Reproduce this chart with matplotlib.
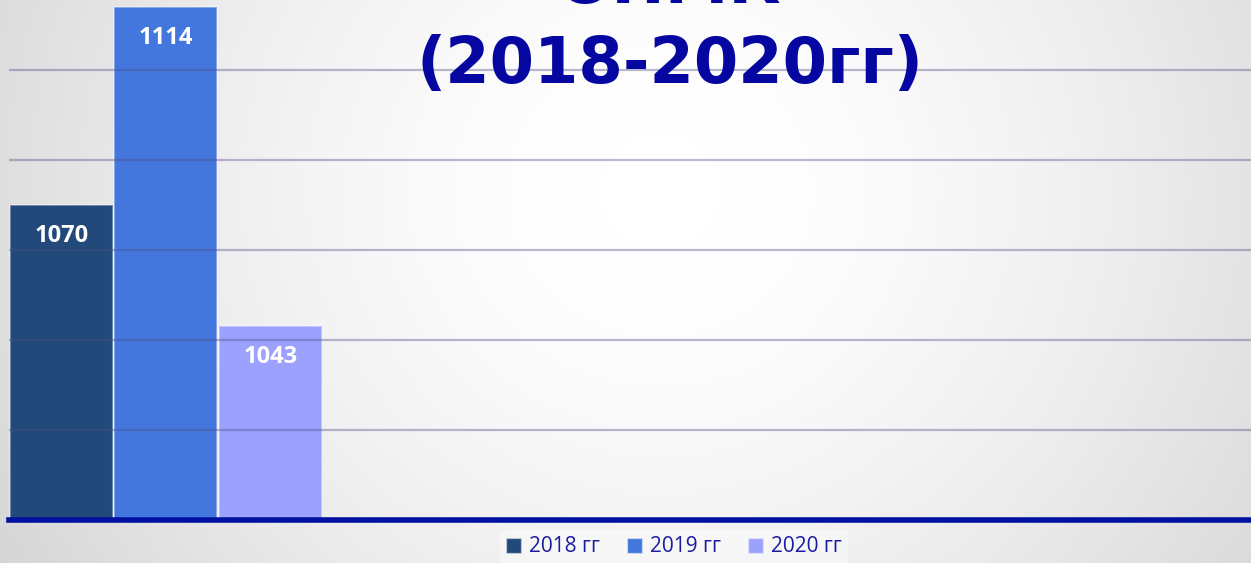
import numpy as np
import matplotlib
matplotlib.use('Agg')
import matplotlib.pyplot as plt
from matplotlib.patches import Patch

# Данные
years = ['2018 гг', '2019 гг', '2020 гг']
values = [1070, 1114, 1043]
colors = ['#22497a', '#4477dd', '#9ba1fc']
title_top = 'ОНМК'
title_bottom = '(2018-2020гг)'

W, H = 1251, 563
fig = plt.figure(figsize=(W / 100, H / 100), dpi=100)

# фон - радиальный градиент
bg = fig.add_axes([0, 0, 1, 1], zorder=-5)
yy, xx = np.mgrid[0:H, 0:W]
d = np.sqrt((xx - 660.0) ** 2 + ((yy - 190.0) * 1.05) ** 2)
shade = 255 - 0.0022 * np.clip(d - 60, 0, None) ** 1.5
shade = np.clip(shade, 185, 255) / 255.0
bg.imshow(np.dstack([shade, shade, shade]), extent=[0, W, H, 0], aspect='auto')
bg.set_axis_off()

# основной график
ax = fig.add_axes([9 / W, (H - 519.5) / H, 1 - 9 / W, 519.5 / H])
ax.patch.set_alpha(0)
x = np.arange(len(values))
bars = ax.bar(x, [v - 1000 for v in values], width=0.99, bottom=1000, color=colors,
              edgecolor=(1, 1, 1, 0.35), linewidth=1.5, zorder=2)

ax.set_xlim(-0.5, -0.5 + (W - 9) / 104.5)
ax.set_ylim(1000, 1000 + 519.5 / 4.493)

for gy in [1020, 1040, 1060, 1080, 1100]:
    ax.axhline(gy, color='#50508a', alpha=0.4, lw=1.6, zorder=3)
ax.axhline(1000, color='#0010a0', lw=4, zorder=4, clip_on=False)

for xi, v in zip(x, values):
    ax.annotate(str(v), (xi, v), xytext=(0, -22), textcoords='offset points',
                ha='center', va='center', color='white', fontsize=17,
                fontweight='bold', family='Open Sans', zorder=5)

for s in ax.spines.values():
    s.set_visible(False)
ax.set_xticks([])
ax.set_yticks([])

# заголовок (верхняя строка обрезана)
fig.text(670 / W, 1 - 3.5 / H, title_top, ha='center', va='baseline',
         fontsize=46, fontweight='bold', color='#0606a0')
fig.text(670 / W, 1 - 83 / H, title_bottom, ha='center', va='baseline',
         fontsize=46, fontweight='bold', color='#0606a0')

# легенда
handles = [Patch(facecolor=c, edgecolor=(1, 1, 1, 0.4)) for c in colors]
leg = fig.legend(handles, years, loc='center', bbox_to_anchor=(674 / W, 1 - 547 / H),
                 ncol=3, frameon=True, handlelength=0.7, handleheight=0.7,
                 handletextpad=0.4, columnspacing=1.3, borderpad=0.3,
                 prop={'family': 'Open Sans', 'size': 15})
leg.get_frame().set_facecolor('white')
leg.get_frame().set_alpha(0.4)
leg.get_frame().set_edgecolor('none')
for t in leg.get_texts():
    t.set_color('#1c1ca0')

fig.savefig('out.png', dpi=100)
